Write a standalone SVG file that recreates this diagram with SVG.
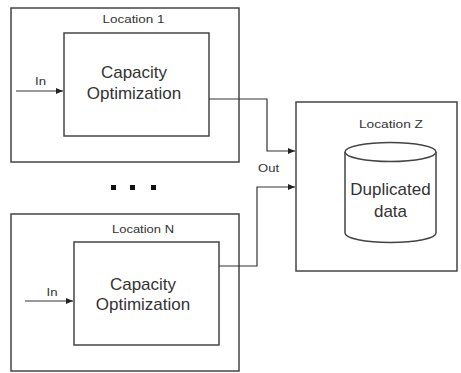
<svg xmlns="http://www.w3.org/2000/svg" width="461" height="373" viewBox="0 0 461 373">
<style>
.box{fill:#fff;stroke:#444;stroke-width:1.5}
.ln{fill:none;stroke:#333;stroke-width:1.2}
.sm{font-family:"Liberation Sans",Arial,sans-serif;font-size:11px;fill:#333;text-anchor:middle}
.lg{font-family:"Liberation Sans",Arial,sans-serif;font-size:17px;fill:#333;text-anchor:middle}
</style>
<defs>
<marker id="ah" markerWidth="8" markerHeight="6" refX="7" refY="3" orient="auto" markerUnits="userSpaceOnUse">
<path d="M0,0 L7,3 L0,6 Z" fill="#222"/>
</marker>
</defs>
<rect width="461" height="373" fill="#fff"/>
<g id="loc1">
<rect class="box" x="11" y="8" width="228" height="154"/>
<text class="sm" x="133.5" y="23" textLength="62" lengthAdjust="spacingAndGlyphs">Location 1</text>
</g>
<g id="cap1">
<rect class="box" x="64" y="33" width="145" height="103"/>
<text class="lg" x="134" y="78">Capacity</text>
<text class="lg" x="134" y="99">Optimization</text>
</g>
<g id="locN">
<rect class="box" x="11" y="214" width="228" height="157"/>
<text class="sm" x="143" y="233" textLength="62" lengthAdjust="spacingAndGlyphs">Location N</text>
</g>
<g id="capN">
<rect class="box" x="74" y="242" width="145" height="103"/>
<text class="lg" x="143" y="290">Capacity</text>
<text class="lg" x="143" y="310">Optimization</text>
</g>
<g id="locZ">
<rect class="box" x="296" y="102" width="161" height="169"/>
<text class="sm" x="391" y="128" textLength="64" lengthAdjust="spacingAndGlyphs">Location Z</text>
</g>
<g id="data">
<path class="box" d="M345,152 L345,233 A45.5,9.5 0 0 0 436,233 L436,152"/>
<ellipse class="box" cx="390.5" cy="152" rx="45.5" ry="9.5"/>
<text class="lg" x="390.5" y="195">Duplicated</text>
<text class="lg" x="390.5" y="217">data</text>
</g>
<g id="dots" fill="#111">
<rect x="111" y="185" width="5" height="5"/>
<rect x="130" y="185" width="5" height="5"/>
<rect x="151" y="185" width="5" height="5"/>
</g>
<g id="connectors">
<line class="ln" x1="16" y1="91" x2="63" y2="91" marker-end="url(#ah)"/>
<text class="sm" x="40.5" y="85" textLength="11" lengthAdjust="spacingAndGlyphs">In</text>
<line class="ln" x1="25" y1="301" x2="73" y2="301" marker-end="url(#ah)"/>
<text class="sm" x="52" y="296" textLength="11" lengthAdjust="spacingAndGlyphs">In</text>
<polyline class="ln" points="209,99 267,99 267,151 295,151" marker-end="url(#ah)"/>
<polyline class="ln" points="219,266 257,266 257,187 295,187" marker-end="url(#ah)"/>
<text class="sm" x="268.5" y="172" textLength="21" lengthAdjust="spacingAndGlyphs">Out</text>
</g>
</svg>
